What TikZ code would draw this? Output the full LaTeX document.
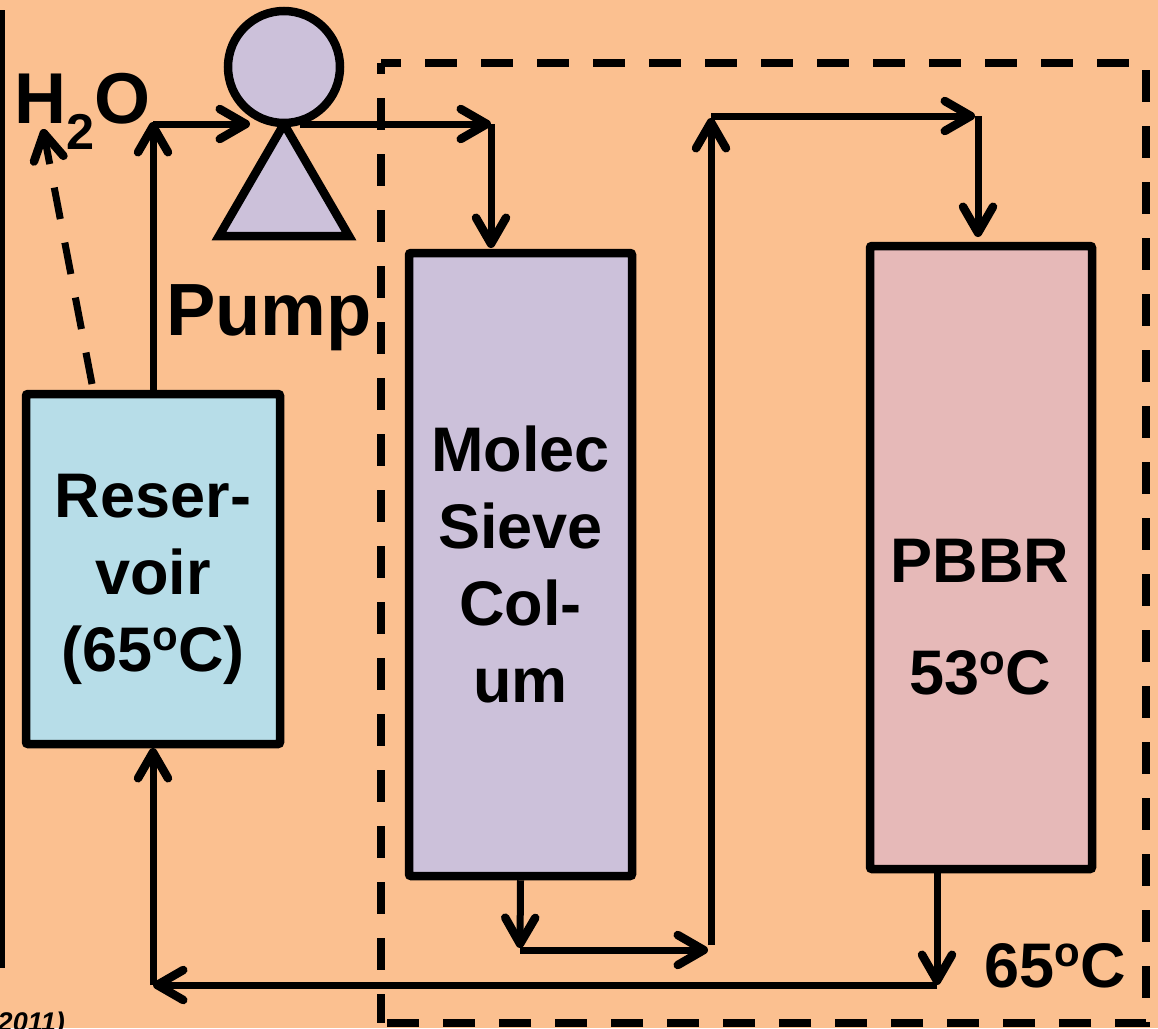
\documentclass[tikz,border=0pt]{standalone}
\usepackage{fontspec}
\setmainfont{Liberation Sans}
\usetikzlibrary{
    arrows.meta,
    positioning
}
\definecolor{ink}{RGB}{0,0,0}
\definecolor{panel}{RGB}{251,192,144}
\definecolor{reservoirfill}{RGB}{183,221,232}
\definecolor{sievefill}{RGB}{204,193,218}
\definecolor{reactorfill}{RGB}{230,185,184}
\newcommand{\degC}{\raisebox{0.32em}{\fontsize{42}{42}\selectfont o}C}
\tikzset{
    line join=round,
    unit/.style={
        rectangle,
        draw=ink,
        line width=8.5pt,
        rounded corners=2pt,
        inner sep=0pt,
        align=center,
        font=\bfseries\fontsize{63}{77}\selectfont
    },
    pumppart/.style={
        draw=ink,
        fill=sievefill,
        line width=8.5pt
    },
    flow/.style={
        -{Straight Barb[length=26pt,width=30pt,round,line width=8.5pt]},
        draw=ink,
        line width=7pt
    },
    vent/.style={
        flow,
        dash pattern=on 32pt off 24pt
    },
    boundary/.style={
        draw=ink,
        line width=8pt,
        dash pattern=on 32pt off 24pt
    },
    bigtext/.style={
        font=\bfseries\fontsize{63}{77}\selectfont,
        text=ink,
        inner sep=0pt
    }
}
\begin{document}
\begin{tikzpicture}[x=1pt, y=-1pt]
\useasboundingbox (0,0) rectangle (1158,1028);
\path[fill=panel] (0,0) rectangle (1158,1028);

% Left edge and dashed enclosure
\coordinate (edgetop) at (2,10);
\coordinate (edgebot) at (2,968);
\draw[draw=ink, line width=5pt] (edgetop) -- (edgebot);

\coordinate (boxnw) at (381,63);
\coordinate (boxne) at (1146,63);
\coordinate (boxse) at (1146,1023);
\coordinate (boxsw) at (381,1023);
\draw[boundary, dash phase=12pt] (boxnw) -- (boxne) -- (boxse) -- (boxsw);
\draw[boundary, dash phase=21pt] (boxnw) -- (boxsw);

% Units
\node[unit, fill=reservoirfill, minimum width=254pt, minimum height=350pt] (reservoir) at (153,569) {};
\node[unit, fill=sievefill, minimum width=223pt, minimum height=623pt] (sieve) at (520.5,564.5) {Molec\\Sieve\\Col-\\um};
\node[unit, fill=reactorfill, minimum width=222pt, minimum height=623pt] (reactor) at (981,557.5) {};
\node[bigtext, align=center] (reservoirlabel) at (153,579) {Reser-\\voir\\(65\degC)};
\node[bigtext, align=center, font=\bfseries\fontsize{63}{112}\selectfont] (reactorlabel) at (980,617) {PBBR\\53\degC};

% Pump
\coordinate (pumpapex) at (284,124);
\coordinate (pumpleft) at (219,236);
\coordinate (pumpright) at (349,236);
\draw[pumppart] (pumpapex) -- (pumpleft) -- (pumpright) -- cycle;
\node[pumppart, circle, minimum size=112pt, inner sep=0pt] (pumphead) at (284,67) {};

% Labels
\node[bigtext, anchor=base west, font=\bfseries\fontsize{74}{80}\selectfont] (pumplabel) at (166,335) {Pump};
\node[bigtext, anchor=base west, font=\bfseries\fontsize{72}{80}\selectfont] (water) at (14,123) {H\textsubscript{2}O};
\node[bigtext, anchor=base east] (outlettemp) at (1126,987) {65\degC};
\node[anchor=base east, inner sep=0pt, font=\bfseries\itshape\fontsize{27}{30}\selectfont] (cite) at (65,1031) {(2011)};

% Junctions
\coordinate (feedup) at (153,122);
\coordinate (feedin) at (250,124);
\coordinate (pumpout) at (300,124);
\coordinate (sievecorner) at (491,124);
\coordinate (sievein) at (491,248);
\coordinate (sieveout) at (520,948);
\coordinate (riserfoot) at (708,950);
\coordinate (sievefoot) at (520,950);
\coordinate (risertop) at (711,118);
\coordinate (riserbase) at (711,945);
\coordinate (reactorcorner) at (975,116);
\coordinate (risercorner) at (711,116);
\coordinate (reactordrop) at (978,116);
\coordinate (reactorin) at (978,237);
\coordinate (reactorout) at (937,985);
\coordinate (returnend) at (153,985);
\coordinate (reservoirin) at (153,748);
\coordinate (ventend) at (43,129);
\coordinate (ventstart) at (92,384);

% Flow lines
\draw[vent] (ventstart) -- (ventend);
\draw[flow] (reservoir.north) -- (feedup);
\draw[flow] (feedup |- feedin) -- (feedin);
\draw[flow] (pumpout) -- (sievecorner);
\draw[flow] (sievecorner) -- (sievein);
\draw[flow] (sieve.south) -- (sieveout);
\draw[flow] (sievefoot) -- (riserfoot);
\draw[flow] (riserbase) -- (risertop);
\draw[flow] (risercorner) -- (reactorcorner);
\draw[flow] (reactordrop) -- (reactorin);
\draw[flow] (reactorout |- reactor.south) -- (reactorout);
\draw[flow] (reactorout) -- (returnend);
\draw[flow] (returnend) -- (reservoirin);
\end{tikzpicture}
\end{document}
